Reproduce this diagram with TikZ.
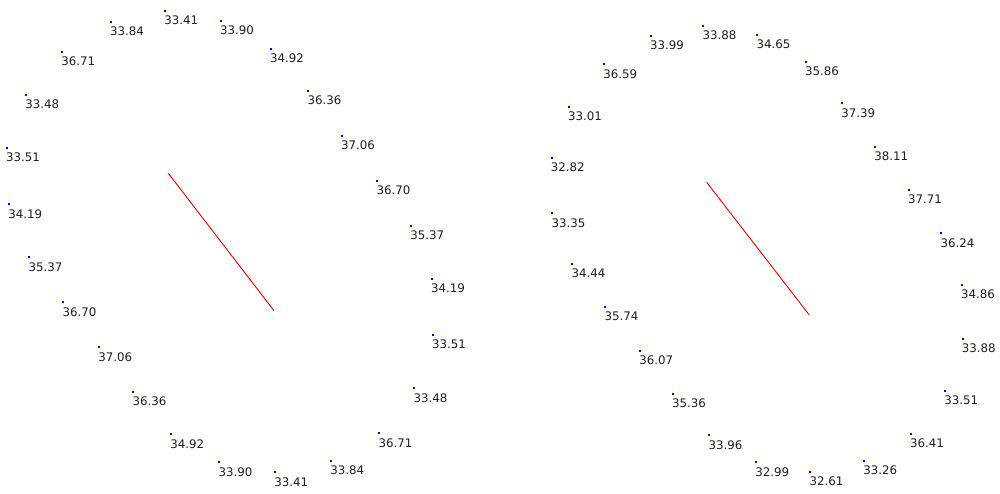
\documentclass[tikz,border=0pt]{standalone}
\usepackage{fontspec}
\setmainfont{DejaVu Sans}
\begin{document}
\begin{tikzpicture}[x=1pt,y=-1pt,
  dot/.style={fill=blue,inner sep=0pt,minimum size=2pt,draw=none,rectangle},
  val/.style={anchor=base west,inner sep=0pt,font=\fontsize{11.8}{12}\selectfont,text=black!88},
  redline/.style={draw=red!90!black,line width=0.9pt}]
\useasboundingbox[fill=white] (0,0) rectangle (1000,494);
% left ring
\foreach \x/\y/\t [count=\i] in {165/11/33.41,220.7/21/33.90,270.7/49/34.92,308.3/91/36.36,341.7/136/37.06,377.3/181/36.70,411/226/35.37,431.7/278.7/34.19,432.7/335/33.51,414.3/388.3/33.48,379.3/433.3/36.71,331/461/33.84,275/472.3/33.41,219.3/462.3/33.90,171/434.3/34.92,133.3/391.7/36.36,99/347.3/37.06,63.3/302.3/36.70,29.3/257.3/35.37,9/204.3/34.19,6.7/147.7/33.51,26/95/33.48,62/51.7/36.71,110.7/22/33.84}{
  \node[dot] (L\i) at (\x,\y) {};
  \node[val] (LT\i) at ([xshift=-0.8pt,yshift=-13.8pt]L\i.center) {\t};
}
% right ring
\foreach \x/\y/\t [count=\i] in {703.3/25.7/33.88,757.3/35/34.65,805.7/62/35.86,842/103.3/37.39,875/146.7/38.11,908.7/190/37.71,941.3/233.3/36.24,961.7/285/34.86,962.5/338.5/33.88,945/390.7/33.51,910.7/434/36.41,864/461/33.26,810.3/471.7/32.61,756/462.3/32.99,709.3/435.3/33.96,672.7/394/35.36,640/350.5/36.07,605.3/307/35.74,572.3/263.7/34.44,552.3/213.3/33.35,551.5/158/32.82,568.7/106.7/33.01,604/64.3/36.59,650.7/36/33.99}{
  \node[dot] (R\i) at (\x,\y) {};
  \node[val] (RT\i) at ([xshift=-0.8pt,yshift=-13.8pt]R\i.center) {\t};
}
% red lines
\coordinate (la) at (168.3,173.3);
\coordinate (lb) at (274,310.7);
\coordinate (ra) at (706.7,182.3);
\coordinate (rb) at (809.3,315);
\draw[redline] (la) -- (lb);
\draw[redline] (ra) -- (rb);
\end{tikzpicture}
\end{document}
